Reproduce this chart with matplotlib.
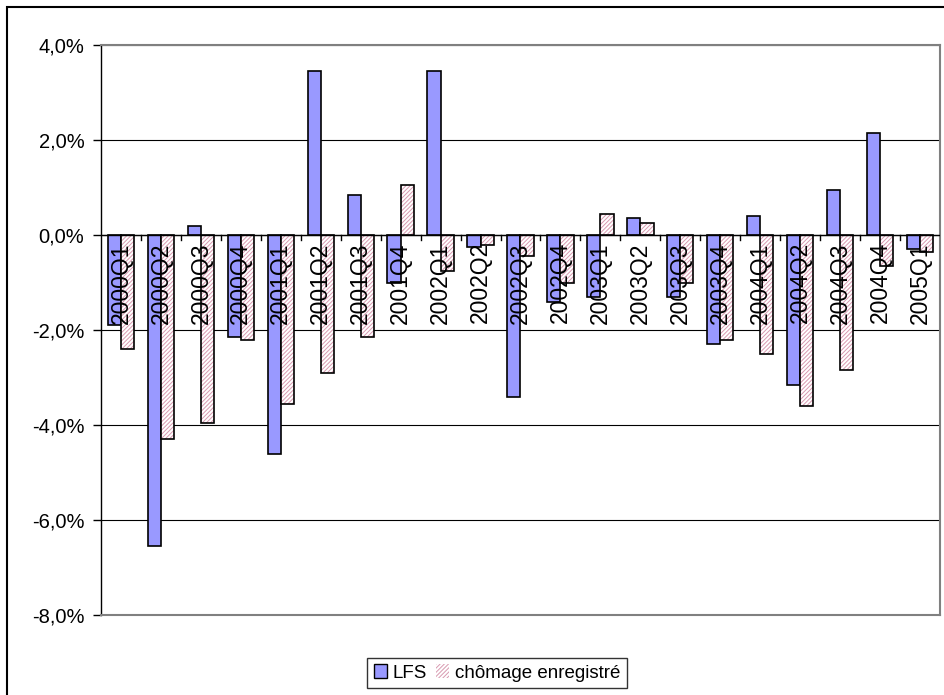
import numpy as np
import matplotlib
matplotlib.use('Agg')
import matplotlib.pyplot as plt
from matplotlib.patches import Patch, Rectangle
from matplotlib.ticker import FuncFormatter

plt.rcParams['font.family'] = ['Liberation Sans', 'DejaVu Sans']

quarters = ['2000Q1', '2000Q2', '2000Q3', '2000Q4', '2001Q1', '2001Q2', '2001Q3',
            '2001Q4', '2002Q1', '2002Q2', '2002Q3', '2002Q4', '2003Q1', '2003Q2',
            '2003Q3', '2003Q4', '2004Q1', '2004Q2', '2004Q3', '2004Q4', '2005Q1']
lfs = [-1.9, -6.55, 0.2, -2.15, -4.6, 3.45, 0.85, -1.0, 3.45, -0.25, -3.4,
       -1.4, -1.3, 0.35, -1.3, -2.3, 0.4, -3.15, 0.95, 2.15, -0.3]
chomage = [-2.4, -4.3, -3.95, -2.2, -3.55, -2.9, -2.15, 1.05, -0.75, -0.2, -0.45,
           -1.0, 0.45, 0.25, -1.0, -2.2, -2.5, -3.6, -2.85, -0.65, -0.35]

blue = '#9999ff'
pink = '#d899b0'

fig = plt.figure(figsize=(9.45, 6.95), dpi=100)
ax = fig.add_axes([101 / 945, 1 - 615 / 695, 839 / 945, 570 / 695])

x = np.arange(len(quarters))
w = 0.33
plt.rcParams['hatch.linewidth'] = 0.7
ax.bar(x - w / 2, lfs, w, color=blue, edgecolor='black', linewidth=1.2, zorder=3)
# hatched bars: pink hatch first, then black outline on top
ax.bar(x + w / 2, chomage, w, color='white', edgecolor=pink, hatch='////////',
       linewidth=0, zorder=3)
ax.bar(x + w / 2, chomage, w, fill=False, edgecolor='black', linewidth=1.2, zorder=4)

ax.set_xlim(-0.5, len(quarters) - 0.5)
ax.set_ylim(-8, 4)
ax.set_yticks(np.arange(-8, 4.1, 2))
ax.yaxis.set_major_formatter(FuncFormatter(lambda v, p: f'{v:.1f}%'.replace('.', ',')))
ax.yaxis.grid(True, color='black', linewidth=0.8, zorder=0)
ax.tick_params(axis='y', labelsize=14.5, length=6, width=1, direction='out', pad=6)

ax.set_xticks(np.arange(-0.5, len(quarters)), labels=[])
ax.tick_params(axis='x', length=0)

for s in ['top', 'right', 'bottom']:
    ax.spines[s].set_color('#808080')
    ax.spines[s].set_linewidth(1.5)
ax.spines['left'].set_color('black')
ax.spines['left'].set_linewidth(1)

# zero axis line with small downward ticks
ax.axhline(0, color='black', linewidth=1, zorder=5)
for b in np.arange(0.5, len(quarters) - 0.5):
    ax.plot([b, b], [0, -0.11], color='black', linewidth=1, zorder=5)

for i, q in enumerate(quarters):
    ax.text(i, -0.15, q, rotation=90, ha='center', va='top', fontsize=16.5, zorder=6)

handles = [Patch(facecolor=blue, edgecolor='black', linewidth=1),
           Patch(facecolor='white', edgecolor=pink, hatch='////////', linewidth=0)]
leg = fig.legend(handles, ['LFS', 'chômage enregistré'], loc='center',
                 bbox_to_anchor=(497 / 945, 1 - 673 / 695), ncol=2, fontsize=13.5,
                 frameon=True, fancybox=False, handlelength=0.7, handleheight=0.7,
                 handletextpad=0.3, columnspacing=0.5, borderpad=0.35)
leg.get_frame().set_edgecolor('black')
leg.get_frame().set_linewidth(1)

# outer chart border
fig.add_artist(Rectangle((7 / 945, -0.02), 1.1, 1 - 7 / 695 + 0.02, transform=fig.transFigure,
                         fill=False, edgecolor='black', linewidth=1.5))

fig.savefig('out.png', dpi=100)
